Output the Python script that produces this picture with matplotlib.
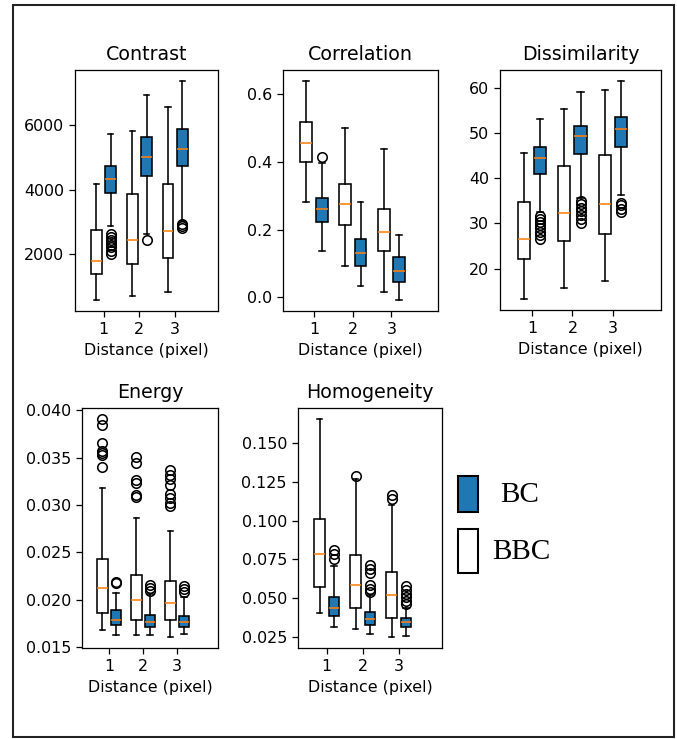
import matplotlib
matplotlib.use("Agg")
import matplotlib.pyplot as plt
from matplotlib.patches import Rectangle

# Five-number summaries per distance: [whisker low, Q1, median, Q3, whisker high]
distances = [1, 2, 3]
x_label = "Distance (pixel)"
group_labels = ["BC", "BBC"]

contrast_bbc = [[582, 1375, 1793, 2753, 4180],
                [717, 1688, 2440, 3860, 5812],
                [832, 1876, 2711, 4173, 6564]]
contrast_bbc_fliers = [[], [], []]
contrast_bc = [[2870, 3912, 4330, 4737, 5739],
               [2620, 4434, 5029, 5635, 6929],
               [3045, 4737, 5259, 5896, 7378]]
contrast_bc_fliers = [[2620, 2540, 2460, 2380, 2300, 2220, 2100, 2010],
                      [2450],
                      [2950, 2880, 2810]]

correlation_bbc = [[0.280, 0.400, 0.454, 0.517, 0.638],
                   [0.092, 0.213, 0.276, 0.333, 0.498],
                   [0.016, 0.137, 0.194, 0.261, 0.436]]
correlation_bbc_fliers = [[], [], []]
correlation_bc = [[0.137, 0.223, 0.261, 0.293, 0.397],
                  [0.034, 0.092, 0.132, 0.173, 0.280],
                  [-0.008, 0.045, 0.079, 0.120, 0.184]]
correlation_bc_fliers = [[0.413], [], []]

dissimilarity_bbc = [[13.3, 22.2, 26.5, 34.8, 45.6],
                     [15.8, 26.2, 32.3, 42.8, 55.3],
                     [17.3, 27.7, 34.2, 45.1, 59.6]]
dissimilarity_bbc_fliers = [[], [], []]
dissimilarity_bc = [[32.6, 40.9, 44.5, 46.8, 53.1],
                    [35.7, 45.3, 49.3, 51.6, 59.0],
                    [36.3, 46.8, 50.8, 53.5, 61.5]]
dissimilarity_bc_fliers = [[31.6, 31.0, 30.3, 29.7, 29.0, 28.2, 27.4, 26.6],
                           [35.0, 34.2, 33.5, 32.7, 31.9, 31.0, 30.2],
                           [34.6, 34.0, 33.3, 32.5]]

energy_bbc = [[0.01681, 0.01858, 0.02117, 0.02432, 0.03178],
              [0.01621, 0.01780, 0.02000, 0.02258, 0.02860],
              [0.01603, 0.01788, 0.01968, 0.02195, 0.02730]]
energy_bbc_fliers = [[0.0391, 0.0385, 0.0366, 0.0357, 0.0355, 0.0353, 0.0340],
                     [0.0351, 0.0344, 0.0326, 0.0323, 0.0311, 0.0308],
                     [0.0337, 0.0332, 0.0327, 0.0321, 0.0312, 0.0307, 0.0302, 0.0299]]
energy_bc = [[0.01621, 0.01728, 0.01781, 0.01894, 0.02064],
             [0.01621, 0.01710, 0.01760, 0.01834, 0.02060],
             [0.01639, 0.01710, 0.01758, 0.01829, 0.02030]]
energy_bc_fliers = [[0.02187, 0.02170],
                    [0.02150, 0.02117, 0.02090],
                    [0.02140, 0.02110, 0.02080]]

homogeneity_bbc = [[0.0405, 0.0573, 0.0787, 0.1013, 0.1655],
                   [0.0302, 0.0438, 0.0584, 0.0776, 0.1267],
                   [0.0250, 0.0373, 0.0520, 0.0668, 0.1100]]
homogeneity_bbc_fliers = [[], [0.1289], [0.1164, 0.1138]]
homogeneity_bc = [[0.0313, 0.0384, 0.0438, 0.0507, 0.0707],
                  [0.0272, 0.0326, 0.0366, 0.0410, 0.0524],
                  [0.0259, 0.0315, 0.0345, 0.0373, 0.0438]]
homogeneity_bc_fliers = [[0.0808, 0.0782, 0.0750],
                         [0.0715, 0.0690, 0.0660, 0.0585, 0.0560, 0.0540],
                         [0.0580, 0.0555, 0.0530, 0.0505, 0.0480, 0.0460]]

panels = [
    ("Contrast", contrast_bbc, contrast_bbc_fliers, contrast_bc, contrast_bc_fliers),
    ("Correlation", correlation_bbc, correlation_bbc_fliers, correlation_bc, correlation_bc_fliers),
    ("Dissimilarity", dissimilarity_bbc, dissimilarity_bbc_fliers, dissimilarity_bc, dissimilarity_bc_fliers),
    ("Energy", energy_bbc, energy_bbc_fliers, energy_bc, energy_bc_fliers),
    ("Homogeneity", homogeneity_bbc, homogeneity_bbc_fliers, homogeneity_bc, homogeneity_bc_fliers),
]

W, H = 677, 739
DPI = 114
fig = plt.figure(figsize=(W / DPI, H / DPI), dpi=DPI)

# axes boxes in pixels: left, top, right, bottom
boxes_px = [
    (75, 70, 218, 311),
    (283, 70, 438, 311),
    (500, 70, 661, 310),
    (82, 408, 218, 648),
    (298, 408, 442, 648),
]

BLUE = "#1f77b4"
ORANGE = "#ff7f0e"


def to_stats(summary, fliers):
    out = []
    for s, f in zip(summary, fliers):
        out.append(dict(whislo=s[0], q1=s[1], med=s[2], q3=s[3], whishi=s[4], fliers=f))
    return out


for (title, bbc, bbc_f, bc, bc_f), (l, t, r, b) in zip(panels, boxes_px):
    ax = fig.add_axes([l / W, 1 - b / H, (r - l) / W, (b - t) / H])
    common = dict(widths=0.3, patch_artist=True, manage_ticks=False,
                  medianprops=dict(color=ORANGE, linewidth=1),
                  flierprops=dict(marker="o", markerfacecolor="none",
                                  markeredgecolor="black", markersize=6))
    ax.bxp(to_stats(bbc, bbc_f), positions=[d - 0.2 for d in distances],
           boxprops=dict(facecolor="white", edgecolor="black"), **common)
    ax.bxp(to_stats(bc, bc_f), positions=[d + 0.2 for d in distances],
           boxprops=dict(facecolor=BLUE, edgecolor="black"), **common)
    ax.set_xlim(0.2, 4.2)
    ax.set_xticks(distances)
    ax.set_xticklabels([str(d) for d in distances])
    ax.set_title(title)
    ax.set_xlabel(x_label)

# group key drawn at the lower right
fig.add_artist(Rectangle((458 / W, 1 - 512 / H), 20 / W, 36 / H,
                         transform=fig.transFigure, facecolor=BLUE,
                         edgecolor="black", linewidth=1.3))
fig.add_artist(Rectangle((458 / W, 1 - 573 / H), 20 / W, 44 / H,
                         transform=fig.transFigure, facecolor="white",
                         edgecolor="black", linewidth=1.3))
fig.text(500 / W, 1 - 495 / H, group_labels[0], family="Liberation Serif",
         fontsize=18.5, ha="left", va="center")
fig.text(492 / W, 1 - 552 / H, group_labels[1], family="Liberation Serif",
         fontsize=18.5, ha="left", va="center")

# outer frame
fig.add_artist(Rectangle((13 / W, 1 - 737 / H), 661 / W, 732 / H,
                         transform=fig.transFigure, facecolor="none",
                         edgecolor="#222222", linewidth=1.3))

fig.savefig("out.png", dpi=DPI)
